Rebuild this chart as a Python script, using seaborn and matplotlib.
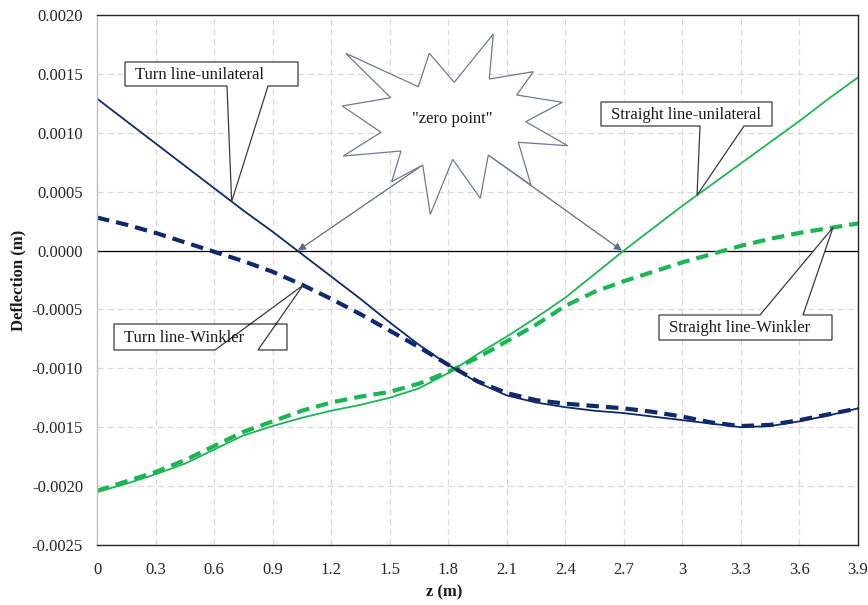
import numpy as np
import pandas as pd
import matplotlib
matplotlib.use("Agg")
import matplotlib.pyplot as plt
from matplotlib.patches import Polygon
import seaborn as sns

# ---------------- data ----------------
z_m = [0.00, 0.15, 0.30, 0.45, 0.60, 0.75, 0.90, 1.05, 1.20, 1.35, 1.50, 1.65, 1.80,
       1.95, 2.10, 2.25, 2.40, 2.55, 2.70, 2.85, 3.00, 3.15, 3.30, 3.45, 3.60, 3.75, 3.90]

turn_unilateral = [0.00129, 0.00110, 0.00091, 0.00072, 0.00053, 0.00034, 0.00016, -0.00003,
                   -0.00022, -0.00041, -0.00061, -0.00080, -0.00097, -0.00112, -0.00123,
                   -0.00129, -0.00133, -0.00136, -0.00138, -0.00141, -0.00144, -0.00147,
                   -0.00150, -0.00149, -0.00145, -0.00140, -0.00134]

turn_winkler = [0.00028, 0.00022, 0.00015, 0.00007, -0.00001, -0.00009, -0.00018, -0.00029,
                -0.00041, -0.00054, -0.00068, -0.00082, -0.00097, -0.00111, -0.00121,
                -0.00127, -0.00130, -0.00132, -0.00134, -0.00137, -0.00141, -0.00146,
                -0.00149, -0.00148, -0.00144, -0.00139, -0.00134]

straight_unilateral = [-0.00205, -0.00198, -0.00190, -0.00181, -0.00169, -0.00157, -0.00149,
                       -0.00142, -0.00136, -0.00131, -0.00125, -0.00117, -0.00104, -0.00088,
                       -0.00073, -0.00057, -0.00040, -0.00020, 0.00000, 0.00019, 0.00038,
                       0.00056, 0.00074, 0.00092, 0.00110, 0.00129, 0.00147]

straight_winkler = [-0.00204, -0.00196, -0.00188, -0.00178, -0.00166, -0.00154, -0.00145,
                    -0.00136, -0.00129, -0.00124, -0.00120, -0.00113, -0.00103, -0.00091,
                    -0.00077, -0.00063, -0.00047, -0.00035, -0.00026, -0.00018, -0.00010,
                    -0.00003, 0.00004, 0.00010, 0.00015, 0.00019, 0.00023]

x_ticks = [0, 0.3, 0.6, 0.9, 1.2, 1.5, 1.8, 2.1, 2.4, 2.7, 3.0, 3.3, 3.6, 3.9]
x_tick_labels = ["0", "0.3", "0.6", "0.9", "1.2", "1.5", "1.8", "2.1", "2.4", "2.7",
                 "3", "3.3", "3.6", "3.9"]
y_ticks = [0.0020, 0.0015, 0.0010, 0.0005, 0.0000, -0.0005, -0.0010, -0.0015, -0.0020, -0.0025]
y_tick_labels = ["0.0020", "0.0015", "0.0010", "0.0005", "0.0000", "-0.0005",
                 "-0.0010", "-0.0015", "-0.0020", "-0.0025"]

x_label = "z (m)"
y_label = "Deflection (m)"
zero_label = '"zero point"'

# ---------------- style ----------------
NAVY = "#0e2a6c"
GREEN = "#1cb553"
ARROW = "#5d6b85"

sns.set_theme(style="white")
plt.rcParams["font.family"] = ["Liberation Serif", "DejaVu Serif"]

W, H = 868, 605
fig = plt.figure(figsize=(W / 100, H / 100), dpi=100)
L, R, T, B = 97, 858, 15, 545
ax = fig.add_axes([L / W, 1 - B / H, (R - L) / W, (B - T) / H])

rows = []
for line, soil, vals in [("Straight line", "unilateral", straight_unilateral),
                         ("Straight line", "Winkler", straight_winkler),
                         ("Turn line", "unilateral", turn_unilateral),
                         ("Turn line", "Winkler", turn_winkler)]:
    for zz, v in zip(z_m, vals):
        rows.append({"z": zz, "deflection": v, "line": line, "soil": soil})
df = pd.DataFrame(rows)

sns.lineplot(data=df, x="z", y="deflection", hue="line", style="soil", size="soil",
             hue_order=["Straight line", "Turn line"],
             palette={"Turn line": NAVY, "Straight line": GREEN},
             style_order=["unilateral", "Winkler"],
             dashes={"unilateral": "", "Winkler": (3, 1.7)},
             sizes={"unilateral": 1.3, "Winkler": 3.0},
             estimator=None, sort=False, legend=False, ax=ax)

ax.axhline(0, color="black", lw=0.9, zorder=1.5)

ax.set_xlim(0, 3.9)
ax.set_ylim(-0.0025, 0.0020)
ax.set_xticks(x_ticks)
ax.set_xticklabels(x_tick_labels)
ax.set_yticks(y_ticks)
ax.set_yticklabels(y_tick_labels)
ax.tick_params(length=0, labelsize=12, labelcolor="#262626")
ax.tick_params(axis="x", pad=12)
ax.tick_params(axis="y", pad=10)
ax.set_xlabel("")
ax.set_ylabel("")
ax.grid(True, color="#d9d9d9", linestyle=(0, (5, 3)), lw=0.9)
ax.set_axisbelow(True)
for s in ["top", "right", "bottom"]:
    ax.spines[s].set_color("#262626")
    ax.spines[s].set_linewidth(1.0)
ax.spines["left"].set_color("#bfbfbf")
ax.spines["left"].set_linewidth(1.0)

fig.text(18 / W, 1 - 280 / H, y_label, rotation=90, fontsize=12, fontweight="bold",
         ha="center", va="center", color="#1a1a1a")
fig.text(444 / W, 1 - 592 / H, x_label, fontsize=12, fontweight="bold",
         ha="center", va="center", color="#1a1a1a")


def fxy(px, py):
    return (px / W, 1 - py / H)


def data_px(zv, series):
    d = ax.transData.transform((zv, np.interp(zv, z_m, series)))
    return (d[0], H - d[1])


def callout(box, base, tip, text, side="bottom"):
    x0, y0, x1, y1 = box
    b0, b1 = base
    if side == "bottom":
        pts = [(x0, y0), (x1, y0), (x1, y1), (b1, y1), tip, (b0, y1), (x0, y1)]
    else:
        pts = [(x0, y0), (b0, y0), tip, (b1, y0), (x1, y0), (x1, y1), (x0, y1)]
    poly = Polygon([fxy(*p) for p in pts], closed=True, transform=fig.transFigure,
                   facecolor="white", edgecolor="#3a3a3a", lw=0.9, zorder=10, clip_on=False)
    ax.add_patch(poly)
    ax.text(*fxy(x0 + 10, (y0 + y1) / 2 + 1), text, transform=fig.transFigure,
            ha="left", va="center", fontsize=12, color="#1a1a1a", zorder=11)


callout((125, 62, 298, 86), (227, 268), data_px(0.69, turn_unilateral), "Turn line-unilateral")
callout((114, 324, 287, 350), (215, 258), data_px(1.056, turn_winkler), "Turn line-Winkler")
callout((601, 102, 772, 126), (700, 744), data_px(3.075, straight_unilateral),
        "Straight line-unilateral")
callout((659, 315, 832, 340), (760, 803), data_px(3.772, straight_winkler),
        "Straight line-Winkler", side="top")

# "zero point" explosion shape with arrows
for start, zt in [((422.7, 165), 1.03), ((488.3, 155), 2.69)]:
    ax.annotate("", xy=(zt, 0), xycoords="data", xytext=fxy(*start),
                textcoords="figure fraction",
                arrowprops=dict(arrowstyle="-|>", color=ARROW, lw=0.9, mutation_scale=11,
                                shrinkA=0, shrinkB=0), zorder=8)

star = [(345.7, 53.3), (418.3, 86.7), (429.3, 53.3), (454.3, 82.3), (493.3, 34.0),
        (489.3, 79.0), (533.3, 71.7), (516.7, 95.0), (562.3, 102.3), (525.7, 121.7),
        (567.7, 145.7), (518.3, 142.3), (531.0, 185.0), (488.3, 155.0), (480.3, 198.3),
        (452.7, 159.3), (430.3, 214.3), (422.7, 165.0), (391.7, 181.7), (401.0, 151.0),
        (343.3, 156.0), (381.0, 132.3), (342.3, 106.0), (390.7, 97.7)]
ax.add_patch(Polygon([fxy(*p) for p in star], closed=True, transform=fig.transFigure,
                     facecolor="white", edgecolor="#6d7a92", lw=0.9, zorder=9, clip_on=False))
ax.text(*fxy(452, 119), zero_label, transform=fig.transFigure, ha="center", va="center",
        fontsize=12, color="#1a1a1a", zorder=11)

fig.savefig("out.png", dpi=100)
